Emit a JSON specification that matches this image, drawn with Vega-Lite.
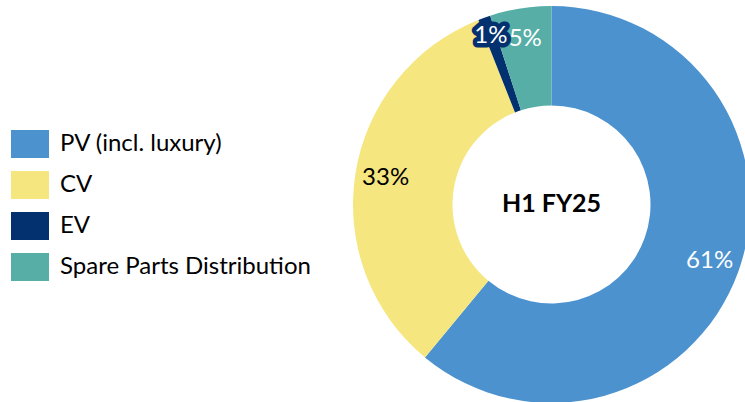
{
  "$schema": "https://vega.github.io/schema/vega-lite/v6.json",
  "width": 397,
  "height": 397,
  "autosize": {"type": "none"},
  "padding": {"left": 353, "top": 6, "right": 0, "bottom": 0},
  "background": "white",
  "config": {"view": {"stroke": null}, "font": "Lato", "text": {"font": "Lato"}},
  "datasets": {
    "shares": [
      {"segment": "PV (incl. luxury)", "share": 0.61, "rank": 1},
      {"segment": "CV", "share": 0.33, "rank": 2},
      {"segment": "EV", "share": 0.01, "rank": 3},
      {"segment": "Spare Parts Distribution", "share": 0.05, "rank": 4}
    ],
    "centre": [{"label": "H1 FY25"}]
  },
  "layer": [
    {
      "data": {"name": "shares"},
      "mark": {"type": "arc", "innerRadius": 99, "outerRadius": 198.5},
      "encoding": {
        "theta": {"field": "share", "type": "quantitative", "stack": true},
        "order": {"field": "rank", "type": "quantitative"},
        "color": {
          "field": "segment",
          "type": "nominal",
          "sort": ["PV (incl. luxury)", "CV", "EV", "Spare Parts Distribution"],
          "scale": {
            "domain": ["PV (incl. luxury)", "CV", "EV", "Spare Parts Distribution"],
            "range": ["#4B92CF", "#F5E680", "#03316F", "#56AEA6"]
          },
          "legend": {
            "orient": "none",
            "legendX": -337,
            "legendY": 124,
            "title": null,
            "padding": 0,
            "offset": 0,
            "symbolType": "M-1.357,-1L1.357,-1L1.357,1L-1.357,1Z",
            "symbolSize": 784,
            "symbolStrokeWidth": 0,
            "symbolOpacity": 1,
            "labelFontSize": 24,
            "labelFont": "Lato",
            "labelColor": "#000000",
            "labelOffset": 16,
            "rowPadding": 13,
            "labelLimit": 400
          }
        }
      }
    },
    {
      "data": {"name": "shares"},
      "mark": {"type": "text", "radius": 168, "fontSize": 24, "font": "Lato"},
      "encoding": {
        "theta": {"field": "share", "type": "quantitative", "stack": true},
        "order": {"field": "rank", "type": "quantitative"},
        "detail": {"field": "segment", "type": "nominal"},
        "text": {
          "condition": {"test": "datum.segment !== 'EV'", "field": "share", "type": "quantitative", "format": ".0%"},
          "value": ""
        },
        "color": {
          "condition": {"test": "datum.segment === 'CV'", "value": "#000000"},
          "value": "#FFFFFF"
        }
      }
    },
    {
      "data": {"name": "shares"},
      "mark": {"type": "text", "radius": 179, "fontSize": 24, "font": "Lato", "fill": "#03316F", "stroke": "#03316F", "strokeWidth": 9, "strokeJoin": "round"},
      "encoding": {
        "theta": {"field": "share", "type": "quantitative", "stack": true},
        "order": {"field": "rank", "type": "quantitative"},
        "detail": {"field": "segment", "type": "nominal"},
        "text": {
          "condition": {"test": "datum.segment === 'EV'", "field": "share", "type": "quantitative", "format": ".0%"},
          "value": ""
        }
      }
    },
    {
      "data": {"name": "shares"},
      "mark": {"type": "text", "radius": 179, "fontSize": 24, "font": "Lato", "fill": "#FFFFFF"},
      "encoding": {
        "theta": {"field": "share", "type": "quantitative", "stack": true},
        "order": {"field": "rank", "type": "quantitative"},
        "detail": {"field": "segment", "type": "nominal"},
        "text": {
          "condition": {"test": "datum.segment === 'EV'", "field": "share", "type": "quantitative", "format": ".0%"},
          "value": ""
        }
      }
    },
    {
      "data": {"name": "centre"},
      "mark": {"type": "text", "fontSize": 25, "fontWeight": "bold", "font": "Lato", "fill": "#000000", "dy": -1},
      "encoding": {
        "text": {"field": "label", "type": "nominal"}
      }
    }
  ]
}
